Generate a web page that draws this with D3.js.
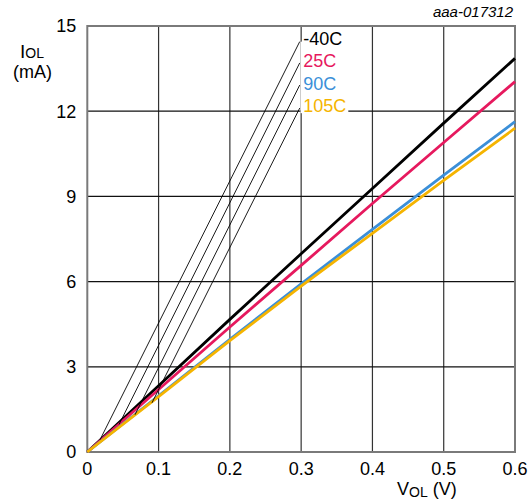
<!DOCTYPE html>
<html>
<head>
<meta charset="utf-8">
<script src="https://cdn.jsdelivr.net/npm/d3@7"></script>
<style>
  body { margin: 0; background: #fff; }
  text { font-family: "Liberation Sans", Arial, sans-serif; }
</style>
</head>
<body>
<svg id="chart" width="532" height="502"></svg>
<script>
// VOL (V) sample points
var vol = [0, 0.1, 0.2, 0.3, 0.4, 0.5, 0.6];
// IOL (mA) per temperature
var iolM40 = [0, 2.33, 4.67, 6.98, 9.28, 11.58, 13.86];
var iol25 = [0, 2.2, 4.4, 6.57, 8.75, 10.9, 13.04];
var iol90 = [0, 1.98, 3.97, 5.92, 7.84, 9.75, 11.63];
var iol105 = [0, 1.95, 3.92, 5.84, 7.7, 9.56, 11.4];

var seriesNames = ["-40C", "25C", "90C", "105C"];
var seriesColors = ["#000000", "#e6195e", "#3b8fd8", "#f5b400"];
var seriesValues = [iolM40, iol25, iol90, iol105];

// leader lines: label end [x, y] and curve end [x, y]
var leaderTop = [[0.298, 14.45], [0.298, 13.7], [0.298, 12.92], [0.298, 12.11]];
var leaderEnd = [[0.0178, 0.43], [0.0445, 0.97], [0.0669, 1.31], [0.0907, 1.73]];

var xTicks = [0, 0.1, 0.2, 0.3, 0.4, 0.5, 0.6];
var yTicks = [0, 3, 6, 9, 12, 15];

var svg = d3.select("#chart"),
    margin = { top: 26, right: 17, bottom: 50, left: 87.3 },
    width = +svg.attr("width") - margin.left - margin.right,
    height = +svg.attr("height") - margin.top - margin.bottom,
    g = svg.append("g").attr("transform", "translate(" + margin.left + "," + margin.top + ")");

var x = d3.scaleLinear().domain([0, 0.6]).range([0, width]);
var y = d3.scaleLinear().domain([0, 15]).range([height, 0]);

// grid
g.selectAll(".vgrid")
    .data(xTicks.slice(1, -1))
    .enter().append("line")
    .attr("x1", d => x(d)).attr("x2", d => x(d))
    .attr("y1", 0).attr("y2", height)
    .attr("stroke", "#333").attr("stroke-width", 1.2);
g.selectAll(".hgrid")
    .data(yTicks.slice(1, -1))
    .enter().append("line")
    .attr("x1", 0).attr("x2", width)
    .attr("y1", d => y(d)).attr("y2", d => y(d))
    .attr("stroke", "#111").attr("stroke-width", 1.2);

// white box behind labels
g.append("rect")
    .attr("x", x(0.3) - 0.6)
    .attr("y", y(14.45))
    .attr("width", x(0.367) - x(0.3))
    .attr("height", y(11.93) - y(14.45))
    .attr("fill", "#fff");

// frame
g.append("rect")
    .attr("width", width).attr("height", height)
    .attr("fill", "none").attr("stroke", "#7a7a7a").attr("stroke-width", 2);

// tick labels
g.append("g")
    .selectAll("text")
    .data(xTicks)
    .enter().append("text")
    .attr("x", d => x(d))
    .attr("y", height + 23)
    .attr("text-anchor", "middle")
    .attr("font-size", 18)
    .text(d => d === 0 ? "0" : d3.format(".1f")(d));

g.append("g")
    .selectAll("text")
    .data(yTicks)
    .enter().append("text")
    .attr("x", -11)
    .attr("y", d => y(d))
    .attr("dy", "0.35em")
    .attr("text-anchor", "end")
    .attr("font-size", 18)
    .text(d => d);

// curves
var line = d3.line()
    .x((d, i) => x(vol[i]))
    .y(d => y(d));

g.append("g")
    .selectAll("path")
    .data(seriesValues)
    .enter().append("path")
    .attr("d", line)
    .attr("fill", "none")
    .attr("stroke", (d, i) => seriesColors[i])
    .attr("stroke-width", 2.8);

// leader lines
g.append("g")
    .selectAll("line")
    .data(leaderTop)
    .enter().append("line")
    .attr("x1", d => x(d[0])).attr("y1", d => y(d[1]))
    .attr("x2", (d, i) => x(leaderEnd[i][0])).attr("y2", (d, i) => y(leaderEnd[i][1]))
    .attr("stroke", "#000").attr("stroke-width", 0.9);

// series labels
g.append("g")
    .selectAll("text")
    .data(seriesNames)
    .enter().append("text")
    .attr("x", x(0.3) + 2)
    .attr("y", (d, i) => 19 + i * 22.3)
    .attr("font-size", 18)
    .attr("fill", (d, i) => seriesColors[i])
    .text(d => d);

// axis titles
var yt = svg.append("text").attr("x", 20).attr("y", 58).attr("font-size", 19);
yt.append("tspan").text("I");
yt.append("tspan").attr("font-size", 14).text("OL");
svg.append("text").attr("x", 13).attr("y", 78).attr("font-size", 18).text("(mA)");

var xt = svg.append("text").attr("x", 397).attr("y", 495).attr("font-size", 18);
xt.append("tspan").text("V");
xt.append("tspan").attr("font-size", 14).attr("dy", 2).text("OL");
xt.append("tspan").attr("dy", -2).text(" (V)");

svg.append("text")
    .attr("x", 513).attr("y", 17)
    .attr("text-anchor", "end")
    .attr("font-size", 15)
    .attr("font-style", "italic")
    .text("aaa-017312");
</script>
</body>
</html>
